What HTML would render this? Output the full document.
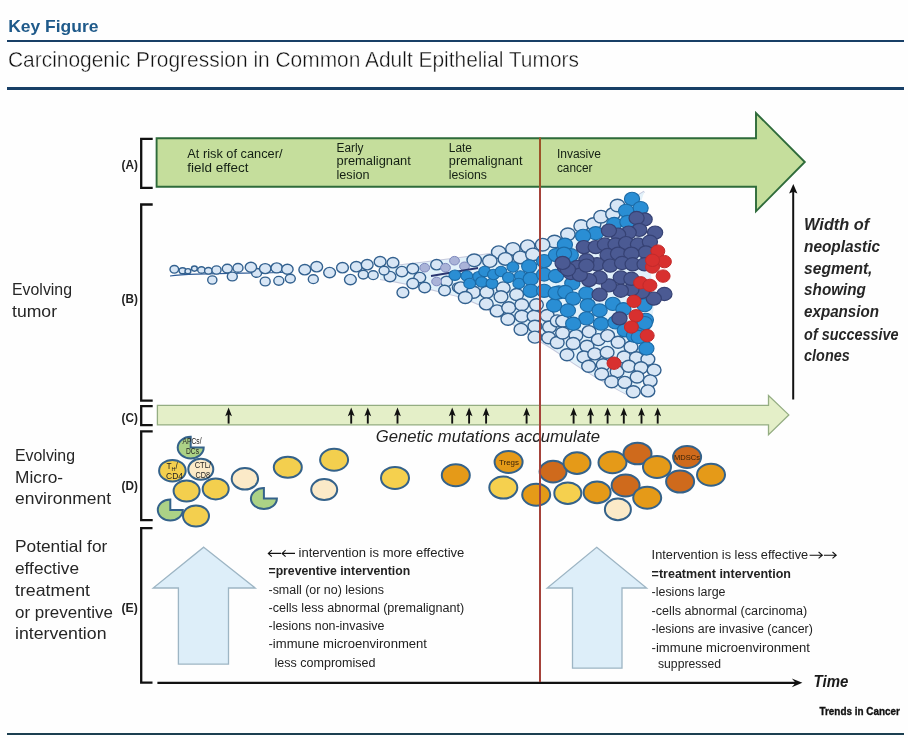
<!DOCTYPE html><html><head><meta charset="utf-8"><style>html,body{margin:0;padding:0;background:#fff;width:908px;height:738px;overflow:hidden}svg{display:block;will-change:transform}text{font-family:"Liberation Sans",sans-serif}</style></head><body>
<svg width="908" height="738" viewBox="0 0 908 738">
<rect x="0" y="0" width="908" height="738" fill="#fefefe"/>
<text x="8.2" y="31.8" font-size="17" font-weight="bold" font-style="normal" fill="#1f5a8a" textLength="90.3" lengthAdjust="spacingAndGlyphs">Key Figure</text>
<rect x="7" y="40" width="897" height="2" fill="#183f66"/>
<text x="8" y="66.8" font-size="22" font-weight="normal" font-style="normal" fill="#111" textLength="571.0" lengthAdjust="spacingAndGlyphs" stroke="#fefefe" stroke-width="0.4">Carcinogenic Progression in Common Adult Epithelial Tumors</text>
<rect x="7" y="87" width="897" height="3" fill="#183f66"/>
<path d="M152.7,138.9 H141.2 V187.8 H152.7" fill="none" stroke="#111" stroke-width="2.3"/>
<path d="M152.7,204.5 H141.2 V400.7 H152.7" fill="none" stroke="#111" stroke-width="2.3"/>
<path d="M152.7,406.2 H141.2 V425.2 H152.7" fill="none" stroke="#111" stroke-width="2.3"/>
<path d="M152.7,431.3 H141.2 V520.2 H152.7" fill="none" stroke="#111" stroke-width="2.3"/>
<path d="M152.5,528.2 H141.2 V682.6 H152.5" fill="none" stroke="#111" stroke-width="2.3"/>
<text x="121.5" y="168.7" font-size="12.5" font-weight="bold" font-style="normal" fill="#222" textLength="16.3" lengthAdjust="spacingAndGlyphs">(A)</text>
<text x="121.5" y="302.5" font-size="12.5" font-weight="bold" font-style="normal" fill="#222" textLength="16.3" lengthAdjust="spacingAndGlyphs">(B)</text>
<text x="121.5" y="422.2" font-size="12.5" font-weight="bold" font-style="normal" fill="#222" textLength="16.3" lengthAdjust="spacingAndGlyphs">(C)</text>
<text x="121.5" y="490" font-size="12.5" font-weight="bold" font-style="normal" fill="#222" textLength="16.3" lengthAdjust="spacingAndGlyphs">(D)</text>
<text x="121.5" y="612" font-size="12.5" font-weight="bold" font-style="normal" fill="#222" textLength="16.3" lengthAdjust="spacingAndGlyphs">(E)</text>
<path d="M156.6,138.3 H756 V113 L804.8,162 L756,211.3 V186.8 H156.6 Z" fill="#c5de9c" stroke="#2e6b3a" stroke-width="1.9" stroke-linejoin="miter"/>
<path d="M157.4,405.4 H768.5 V395.5 L788.8,414.9 L768.5,434.6 V424.9 H157.4 Z" fill="#e4efc8" stroke="#94ad82" stroke-width="1.3"/>
<text x="187.3" y="157.8" font-size="12.5" font-weight="normal" font-style="normal" fill="#142014" textLength="95.2" lengthAdjust="spacingAndGlyphs">At risk of cancer/</text>
<text x="187.3" y="171.6" font-size="12.5" font-weight="normal" font-style="normal" fill="#142014" textLength="61.2" lengthAdjust="spacingAndGlyphs">field effect</text>
<text x="336.5" y="151.5" font-size="12.5" font-weight="normal" font-style="normal" fill="#142014" textLength="27.0" lengthAdjust="spacingAndGlyphs">Early</text>
<text x="336.5" y="164.9" font-size="12.5" font-weight="normal" font-style="normal" fill="#142014" textLength="74.3" lengthAdjust="spacingAndGlyphs">premalignant</text>
<text x="336.5" y="178.6" font-size="12.5" font-weight="normal" font-style="normal" fill="#142014" textLength="33.0" lengthAdjust="spacingAndGlyphs">lesion</text>
<text x="448.8" y="151.5" font-size="12.5" font-weight="normal" font-style="normal" fill="#142014" textLength="23.2" lengthAdjust="spacingAndGlyphs">Late</text>
<text x="448.8" y="164.9" font-size="12.5" font-weight="normal" font-style="normal" fill="#142014" textLength="73.7" lengthAdjust="spacingAndGlyphs">premalignant</text>
<text x="448.8" y="178.6" font-size="12.5" font-weight="normal" font-style="normal" fill="#142014" textLength="38.2" lengthAdjust="spacingAndGlyphs">lesions</text>
<text x="556.9" y="158.1" font-size="12.5" font-weight="normal" font-style="normal" fill="#142014" textLength="44.1" lengthAdjust="spacingAndGlyphs">Invasive</text>
<text x="556.9" y="171.5" font-size="12.5" font-weight="normal" font-style="normal" fill="#142014" textLength="35.6" lengthAdjust="spacingAndGlyphs">cancer</text>
<text x="12" y="294.7" font-size="16.5" font-weight="normal" font-style="normal" fill="#262626" textLength="60.0" lengthAdjust="spacingAndGlyphs">Evolving</text>
<text x="12" y="316.9" font-size="16.5" font-weight="normal" font-style="normal" fill="#262626" textLength="45.0" lengthAdjust="spacingAndGlyphs">tumor</text>
<text x="15" y="460.8" font-size="16.5" font-weight="normal" font-style="normal" fill="#262626" textLength="60.0" lengthAdjust="spacingAndGlyphs">Evolving</text>
<text x="15" y="483" font-size="16.5" font-weight="normal" font-style="normal" fill="#262626" textLength="48.0" lengthAdjust="spacingAndGlyphs">Micro-</text>
<text x="15" y="504.4" font-size="16.5" font-weight="normal" font-style="normal" fill="#262626" textLength="96.0" lengthAdjust="spacingAndGlyphs">environment</text>
<text x="15" y="552" font-size="16.5" font-weight="normal" font-style="normal" fill="#262626" textLength="92.3" lengthAdjust="spacingAndGlyphs">Potential for</text>
<text x="15" y="574" font-size="16.5" font-weight="normal" font-style="normal" fill="#262626" textLength="64.0" lengthAdjust="spacingAndGlyphs">effective</text>
<text x="15" y="595.9" font-size="16.5" font-weight="normal" font-style="normal" fill="#262626" textLength="75.0" lengthAdjust="spacingAndGlyphs">treatment</text>
<text x="15" y="617.8" font-size="16.5" font-weight="normal" font-style="normal" fill="#262626" textLength="98.0" lengthAdjust="spacingAndGlyphs">or preventive</text>
<text x="15" y="639" font-size="16.5" font-weight="normal" font-style="normal" fill="#262626" textLength="91.5" lengthAdjust="spacingAndGlyphs">intervention</text>
<text x="804.1" y="229.5" font-size="16" font-weight="bold" font-style="italic" fill="#262626" textLength="65.1" lengthAdjust="spacingAndGlyphs">Width of</text>
<text x="804.1" y="251.6" font-size="16" font-weight="bold" font-style="italic" fill="#262626" textLength="75.9" lengthAdjust="spacingAndGlyphs">neoplastic</text>
<text x="804.1" y="274" font-size="16" font-weight="bold" font-style="italic" fill="#262626" textLength="68.3" lengthAdjust="spacingAndGlyphs">segment,</text>
<text x="804.1" y="295.2" font-size="16" font-weight="bold" font-style="italic" fill="#262626" textLength="61.8" lengthAdjust="spacingAndGlyphs">showing</text>
<text x="804.1" y="317.4" font-size="16" font-weight="bold" font-style="italic" fill="#262626" textLength="74.9" lengthAdjust="spacingAndGlyphs">expansion</text>
<text x="804.1" y="339.7" font-size="16" font-weight="bold" font-style="italic" fill="#262626" textLength="94.4" lengthAdjust="spacingAndGlyphs">of successive</text>
<text x="804.1" y="360.8" font-size="16" font-weight="bold" font-style="italic" fill="#262626" textLength="45.6" lengthAdjust="spacingAndGlyphs">clones</text>
<line x1="793.2" y1="190" x2="793.2" y2="399.5" stroke="#111" stroke-width="2"/>
<path d="M793.3,184 L797.4,193.6 L793.2,191.8 L789.1,193.6 Z" fill="#111"/>
<path d="M380,267.6 C430,262 490,255 538.6,246.1 S610,212 644.3,191.6" fill="none" stroke="#c4c8dc" stroke-width="2"/>
<path d="M380,279 C420,285 440,292 462.6,297.3 C500,312 520,330 538.6,340.3 C560,352 570,362 584.8,370 C600,380 615,388 631.1,396.4" fill="none" stroke="#c4c8dc" stroke-width="2"/>
<path d="M380,267.6 C430,262 490,255 538.6,246.1 S610,212 644.3,191.6 L640,205 L655,300 L640,392 L631.1,396.4 C615,388 600,380 584.8,370 C570,362 560,352 538.6,340.3 C520,330 500,312 462.6,297.3 C440,292 420,285 380,279 Z" fill="#e2f1fa" stroke="none"/>
<path d="M170,276 C200,272 260,274 290,272" stroke="#2c5a96" stroke-width="1.2" fill="none"/>
<g fill="#d8e6f5" stroke="#33618f" stroke-width="1.4">
<ellipse cx="174.3" cy="269.3" rx="4.3" ry="3.8"/>
<ellipse cx="182.6" cy="270.8" rx="3.5" ry="3.0"/>
<ellipse cx="187.9" cy="271.2" rx="2.9" ry="2.6"/>
<ellipse cx="194.4" cy="268.6" rx="2.9" ry="2.6"/>
<ellipse cx="201.5" cy="270.0" rx="3.8" ry="3.3"/>
<ellipse cx="208.4" cy="270.8" rx="3.8" ry="3.3"/>
<ellipse cx="216.5" cy="270.0" rx="4.6" ry="4.1"/>
<ellipse cx="212.3" cy="280.0" rx="4.6" ry="4.1"/>
<ellipse cx="227.3" cy="268.6" rx="5.0" ry="4.4"/>
<ellipse cx="232.3" cy="276.5" rx="5.0" ry="4.4"/>
<ellipse cx="238.0" cy="267.9" rx="5.0" ry="4.4"/>
<ellipse cx="256.6" cy="272.9" rx="5.0" ry="4.4"/>
<ellipse cx="265.2" cy="281.5" rx="5.0" ry="4.4"/>
<ellipse cx="278.8" cy="280.8" rx="5.0" ry="4.4"/>
<ellipse cx="250.9" cy="267.2" rx="5.7" ry="5.0"/>
<ellipse cx="265.2" cy="268.6" rx="5.7" ry="5.0"/>
<ellipse cx="276.7" cy="267.9" rx="5.7" ry="5.0"/>
<ellipse cx="287.4" cy="269.3" rx="5.7" ry="5.0"/>
<ellipse cx="304.8" cy="269.7" rx="5.9" ry="5.2"/>
<ellipse cx="316.7" cy="266.7" rx="5.9" ry="5.2"/>
<ellipse cx="329.6" cy="272.6" rx="5.9" ry="5.2"/>
<ellipse cx="342.5" cy="267.7" rx="5.9" ry="5.2"/>
<ellipse cx="356.3" cy="266.7" rx="5.9" ry="5.2"/>
<ellipse cx="367.2" cy="264.7" rx="5.9" ry="5.2"/>
<ellipse cx="380.1" cy="261.7" rx="5.9" ry="5.2"/>
<ellipse cx="393.0" cy="262.7" rx="5.9" ry="5.2"/>
<ellipse cx="390.0" cy="276.6" rx="5.9" ry="5.2"/>
<ellipse cx="401.9" cy="271.6" rx="5.9" ry="5.2"/>
<ellipse cx="412.8" cy="268.7" rx="5.9" ry="5.2"/>
<ellipse cx="419.8" cy="277.6" rx="5.9" ry="5.2"/>
<ellipse cx="436.6" cy="264.7" rx="5.9" ry="5.2"/>
<ellipse cx="412.8" cy="283.5" rx="5.9" ry="5.2"/>
<ellipse cx="424.7" cy="287.5" rx="5.9" ry="5.2"/>
<ellipse cx="402.9" cy="292.5" rx="5.9" ry="5.2"/>
<ellipse cx="446.5" cy="281.5" rx="5.9" ry="5.2"/>
<ellipse cx="444.6" cy="290.5" rx="5.9" ry="5.2"/>
<ellipse cx="350.4" cy="279.6" rx="5.9" ry="5.2"/>
<ellipse cx="290.3" cy="278.6" rx="5.0" ry="4.4"/>
<ellipse cx="313.3" cy="279.2" rx="5.0" ry="4.4"/>
<ellipse cx="363.3" cy="274.6" rx="5.0" ry="4.4"/>
<ellipse cx="373.2" cy="275.2" rx="5.0" ry="4.4"/>
<ellipse cx="384.1" cy="270.6" rx="5.0" ry="4.4"/>
<ellipse cx="457.4" cy="287.5" rx="5.0" ry="4.4"/>
<ellipse cx="567.9" cy="234.3" rx="7.2" ry="6.3"/>
<ellipse cx="554.5" cy="241.5" rx="7.2" ry="6.3"/>
<ellipse cx="542.6" cy="244.7" rx="7.2" ry="6.3"/>
<ellipse cx="527.7" cy="246.2" rx="7.2" ry="6.3"/>
<ellipse cx="512.9" cy="248.9" rx="7.2" ry="6.3"/>
<ellipse cx="498.7" cy="252.2" rx="7.2" ry="6.3"/>
<ellipse cx="474.2" cy="260.3" rx="7.2" ry="6.3"/>
<ellipse cx="489.8" cy="261.1" rx="7.2" ry="6.3"/>
<ellipse cx="505.4" cy="258.9" rx="7.2" ry="6.3"/>
<ellipse cx="520.3" cy="257.4" rx="7.2" ry="6.3"/>
<ellipse cx="532.9" cy="254.4" rx="7.2" ry="6.3"/>
<ellipse cx="581.1" cy="226.0" rx="7.2" ry="6.3"/>
<ellipse cx="593.7" cy="224.0" rx="7.2" ry="6.3"/>
<ellipse cx="601.0" cy="216.7" rx="7.2" ry="6.3"/>
<ellipse cx="612.9" cy="214.1" rx="7.2" ry="6.3"/>
<ellipse cx="617.5" cy="205.5" rx="7.2" ry="6.3"/>
<ellipse cx="460.8" cy="287.9" rx="6.9" ry="6.0"/>
<ellipse cx="473.5" cy="292.3" rx="6.9" ry="6.0"/>
<ellipse cx="486.8" cy="292.3" rx="6.9" ry="6.0"/>
<ellipse cx="503.2" cy="287.9" rx="6.9" ry="6.0"/>
<ellipse cx="516.6" cy="294.5" rx="6.9" ry="6.0"/>
<ellipse cx="501.0" cy="296.8" rx="6.9" ry="6.0"/>
<ellipse cx="465.3" cy="297.5" rx="6.9" ry="6.0"/>
<ellipse cx="486.3" cy="303.9" rx="6.9" ry="6.0"/>
<ellipse cx="497.1" cy="310.9" rx="6.9" ry="6.0"/>
<ellipse cx="508.7" cy="307.8" rx="6.9" ry="6.0"/>
<ellipse cx="521.8" cy="304.7" rx="6.9" ry="6.0"/>
<ellipse cx="507.9" cy="319.3" rx="6.9" ry="6.0"/>
<ellipse cx="521.8" cy="316.3" rx="6.9" ry="6.0"/>
<ellipse cx="521.0" cy="329.4" rx="6.9" ry="6.0"/>
<ellipse cx="534.1" cy="316.3" rx="6.9" ry="6.0"/>
<ellipse cx="536.4" cy="304.7" rx="6.9" ry="6.0"/>
<ellipse cx="534.9" cy="326.3" rx="6.9" ry="6.0"/>
<ellipse cx="534.9" cy="337.1" rx="6.9" ry="6.0"/>
<ellipse cx="547.2" cy="315.5" rx="6.9" ry="6.0"/>
<ellipse cx="549.5" cy="327.0" rx="6.9" ry="6.0"/>
<ellipse cx="548.7" cy="337.8" rx="6.9" ry="6.0"/>
<ellipse cx="557.2" cy="320.9" rx="6.9" ry="6.0"/>
<ellipse cx="557.2" cy="342.5" rx="6.9" ry="6.0"/>
<ellipse cx="562.6" cy="321.1" rx="6.9" ry="6.0"/>
<ellipse cx="562.6" cy="333.0" rx="6.9" ry="6.0"/>
<ellipse cx="575.9" cy="335.6" rx="6.9" ry="6.0"/>
<ellipse cx="589.1" cy="331.6" rx="6.9" ry="6.0"/>
<ellipse cx="598.3" cy="339.6" rx="6.9" ry="6.0"/>
<ellipse cx="607.6" cy="335.6" rx="6.9" ry="6.0"/>
<ellipse cx="618.1" cy="342.2" rx="6.9" ry="6.0"/>
<ellipse cx="573.2" cy="343.5" rx="6.9" ry="6.0"/>
<ellipse cx="567.0" cy="354.7" rx="6.9" ry="6.0"/>
<ellipse cx="587.0" cy="346.2" rx="6.9" ry="6.0"/>
<ellipse cx="583.9" cy="357.0" rx="6.9" ry="6.0"/>
<ellipse cx="594.7" cy="353.9" rx="6.9" ry="6.0"/>
<ellipse cx="607.1" cy="352.4" rx="6.9" ry="6.0"/>
<ellipse cx="631.0" cy="347.0" rx="6.9" ry="6.0"/>
<ellipse cx="588.6" cy="366.3" rx="6.9" ry="6.0"/>
<ellipse cx="603.2" cy="364.7" rx="6.9" ry="6.0"/>
<ellipse cx="624.0" cy="357.0" rx="6.9" ry="6.0"/>
<ellipse cx="636.4" cy="357.8" rx="6.9" ry="6.0"/>
<ellipse cx="647.9" cy="359.3" rx="6.9" ry="6.0"/>
<ellipse cx="601.7" cy="374.0" rx="6.9" ry="6.0"/>
<ellipse cx="617.1" cy="371.6" rx="6.9" ry="6.0"/>
<ellipse cx="628.7" cy="366.3" rx="6.9" ry="6.0"/>
<ellipse cx="641.0" cy="367.8" rx="6.9" ry="6.0"/>
<ellipse cx="654.1" cy="370.1" rx="6.9" ry="6.0"/>
<ellipse cx="611.7" cy="381.7" rx="6.9" ry="6.0"/>
<ellipse cx="624.8" cy="382.4" rx="6.9" ry="6.0"/>
<ellipse cx="637.1" cy="377.0" rx="6.9" ry="6.0"/>
<ellipse cx="650.2" cy="380.9" rx="6.9" ry="6.0"/>
<ellipse cx="633.3" cy="391.7" rx="6.9" ry="6.0"/>
<ellipse cx="647.9" cy="390.9" rx="6.9" ry="6.0"/>
</g>
<g fill="#aab3d8" stroke="#7d88bd" stroke-width="1.0">
<ellipse cx="424.7" cy="267.7" rx="4.9" ry="4.3"/>
<ellipse cx="445.5" cy="267.7" rx="4.9" ry="4.3"/>
<ellipse cx="454.5" cy="260.7" rx="4.9" ry="4.3"/>
<ellipse cx="436.6" cy="281.5" rx="4.9" ry="4.3"/>
<ellipse cx="464.5" cy="266.3" rx="4.9" ry="4.3"/>
</g>
<path d="M431,276 L478,268" stroke="#2a3570" stroke-width="1.8" fill="none"/>
<g fill="#2a8ed4" stroke="#1b6aa6" stroke-width="1.1">
<ellipse cx="454.9" cy="275.2" rx="5.9" ry="5.2"/>
<ellipse cx="466.8" cy="276.0" rx="5.9" ry="5.2"/>
<ellipse cx="469.7" cy="283.4" rx="5.9" ry="5.2"/>
<ellipse cx="478.7" cy="276.7" rx="5.9" ry="5.2"/>
<ellipse cx="484.6" cy="271.5" rx="5.9" ry="5.2"/>
<ellipse cx="481.6" cy="281.9" rx="5.9" ry="5.2"/>
<ellipse cx="492.0" cy="283.4" rx="5.9" ry="5.2"/>
<ellipse cx="493.5" cy="274.5" rx="5.9" ry="5.2"/>
<ellipse cx="501.0" cy="271.5" rx="5.9" ry="5.2"/>
<ellipse cx="508.4" cy="277.4" rx="5.9" ry="5.2"/>
<ellipse cx="512.9" cy="267.0" rx="5.9" ry="5.2"/>
<ellipse cx="520.3" cy="276.0" rx="5.9" ry="5.2"/>
<ellipse cx="518.8" cy="283.4" rx="5.9" ry="5.2"/>
<ellipse cx="529.2" cy="266.3" rx="7.6" ry="6.6"/>
<ellipse cx="530.7" cy="278.9" rx="7.6" ry="6.6"/>
<ellipse cx="530.7" cy="290.8" rx="7.6" ry="6.6"/>
<ellipse cx="544.1" cy="261.1" rx="7.6" ry="6.6"/>
<ellipse cx="544.1" cy="274.5" rx="7.6" ry="6.6"/>
<ellipse cx="544.1" cy="290.8" rx="7.6" ry="6.6"/>
<ellipse cx="556.0" cy="255.1" rx="7.6" ry="6.6"/>
<ellipse cx="556.0" cy="276.0" rx="7.6" ry="6.6"/>
<ellipse cx="558.9" cy="292.3" rx="7.6" ry="6.6"/>
<ellipse cx="564.9" cy="244.7" rx="7.6" ry="6.6"/>
<ellipse cx="570.8" cy="255.1" rx="7.6" ry="6.6"/>
<ellipse cx="572.3" cy="283.4" rx="7.6" ry="6.6"/>
<ellipse cx="554.1" cy="305.5" rx="7.6" ry="6.6"/>
<ellipse cx="555.7" cy="293.1" rx="7.6" ry="6.6"/>
<ellipse cx="632.0" cy="198.9" rx="7.6" ry="6.6"/>
<ellipse cx="640.6" cy="208.1" rx="7.6" ry="6.6"/>
<ellipse cx="626.1" cy="210.8" rx="7.6" ry="6.6"/>
<ellipse cx="614.2" cy="224.0" rx="7.6" ry="6.6"/>
<ellipse cx="627.4" cy="222.0" rx="7.6" ry="6.6"/>
<ellipse cx="595.7" cy="233.2" rx="7.6" ry="6.6"/>
<ellipse cx="583.1" cy="235.9" rx="7.6" ry="6.6"/>
<ellipse cx="564.0" cy="253.7" rx="7.6" ry="6.6"/>
<ellipse cx="565.3" cy="292.0" rx="7.6" ry="6.6"/>
<ellipse cx="573.2" cy="298.6" rx="7.6" ry="6.6"/>
<ellipse cx="586.4" cy="293.3" rx="7.6" ry="6.6"/>
<ellipse cx="587.8" cy="305.2" rx="7.6" ry="6.6"/>
<ellipse cx="567.9" cy="310.5" rx="7.6" ry="6.6"/>
<ellipse cx="586.4" cy="318.4" rx="7.6" ry="6.6"/>
<ellipse cx="573.2" cy="323.7" rx="7.6" ry="6.6"/>
<ellipse cx="599.6" cy="310.5" rx="7.6" ry="6.6"/>
<ellipse cx="601.0" cy="323.7" rx="7.6" ry="6.6"/>
<ellipse cx="612.9" cy="303.9" rx="7.6" ry="6.6"/>
<ellipse cx="615.5" cy="322.4" rx="7.6" ry="6.6"/>
<ellipse cx="624.8" cy="330.3" rx="7.6" ry="6.6"/>
<ellipse cx="623.4" cy="309.2" rx="7.6" ry="6.6"/>
<ellipse cx="644.6" cy="305.2" rx="7.6" ry="6.6"/>
<ellipse cx="645.9" cy="319.8" rx="7.6" ry="6.6"/>
<ellipse cx="641.9" cy="326.4" rx="7.6" ry="6.6"/>
<ellipse cx="634.0" cy="335.6" rx="7.6" ry="6.6"/>
<ellipse cx="638.7" cy="337.0" rx="7.6" ry="6.6"/>
<ellipse cx="646.4" cy="348.5" rx="7.6" ry="6.6"/>
<ellipse cx="644.8" cy="323.1" rx="7.6" ry="6.6"/>
</g>
<g fill="#4b5a93" stroke="#364274" stroke-width="1.2">
<ellipse cx="564.9" cy="267.0" rx="7.6" ry="6.6"/>
<ellipse cx="570.8" cy="273.0" rx="7.6" ry="6.6"/>
<ellipse cx="644.6" cy="219.4" rx="7.6" ry="6.6"/>
<ellipse cx="636.6" cy="218.0" rx="7.6" ry="6.6"/>
<ellipse cx="655.1" cy="232.6" rx="7.6" ry="6.6"/>
<ellipse cx="639.3" cy="229.9" rx="7.6" ry="6.6"/>
<ellipse cx="628.7" cy="232.6" rx="7.6" ry="6.6"/>
<ellipse cx="618.1" cy="234.6" rx="7.6" ry="6.6"/>
<ellipse cx="608.9" cy="230.6" rx="7.6" ry="6.6"/>
<ellipse cx="583.8" cy="247.1" rx="7.6" ry="6.6"/>
<ellipse cx="595.7" cy="247.1" rx="7.6" ry="6.6"/>
<ellipse cx="604.9" cy="244.5" rx="7.6" ry="6.6"/>
<ellipse cx="615.5" cy="244.5" rx="7.6" ry="6.6"/>
<ellipse cx="626.1" cy="243.1" rx="7.6" ry="6.6"/>
<ellipse cx="638.0" cy="244.5" rx="7.6" ry="6.6"/>
<ellipse cx="649.9" cy="241.8" rx="7.6" ry="6.6"/>
<ellipse cx="645.9" cy="252.4" rx="7.6" ry="6.6"/>
<ellipse cx="607.6" cy="255.0" rx="7.6" ry="6.6"/>
<ellipse cx="618.1" cy="253.7" rx="7.6" ry="6.6"/>
<ellipse cx="631.4" cy="253.7" rx="7.6" ry="6.6"/>
<ellipse cx="597.0" cy="264.3" rx="7.6" ry="6.6"/>
<ellipse cx="610.2" cy="265.6" rx="7.6" ry="6.6"/>
<ellipse cx="622.1" cy="263.0" rx="7.6" ry="6.6"/>
<ellipse cx="632.7" cy="264.3" rx="7.6" ry="6.6"/>
<ellipse cx="644.6" cy="264.3" rx="7.6" ry="6.6"/>
<ellipse cx="586.4" cy="260.3" rx="7.6" ry="6.6"/>
<ellipse cx="577.2" cy="267.0" rx="7.6" ry="6.6"/>
<ellipse cx="664.4" cy="294.0" rx="7.6" ry="6.6"/>
<ellipse cx="653.8" cy="298.6" rx="7.6" ry="6.6"/>
<ellipse cx="641.9" cy="292.0" rx="7.6" ry="6.6"/>
<ellipse cx="631.4" cy="289.4" rx="7.6" ry="6.6"/>
<ellipse cx="620.8" cy="290.7" rx="7.6" ry="6.6"/>
<ellipse cx="620.8" cy="277.5" rx="7.6" ry="6.6"/>
<ellipse cx="631.4" cy="278.8" rx="7.6" ry="6.6"/>
<ellipse cx="608.9" cy="285.4" rx="7.6" ry="6.6"/>
<ellipse cx="599.6" cy="294.6" rx="7.6" ry="6.6"/>
<ellipse cx="599.6" cy="277.5" rx="7.6" ry="6.6"/>
<ellipse cx="589.1" cy="280.1" rx="7.6" ry="6.6"/>
<ellipse cx="579.8" cy="274.8" rx="7.6" ry="6.6"/>
<ellipse cx="567.9" cy="269.5" rx="7.6" ry="6.6"/>
<ellipse cx="562.6" cy="262.9" rx="7.6" ry="6.6"/>
<ellipse cx="586.4" cy="265.6" rx="7.6" ry="6.6"/>
<ellipse cx="619.5" cy="318.4" rx="7.6" ry="6.6"/>
</g>
<g fill="#d8302f" stroke="#c22a2a" stroke-width="1.0">
<ellipse cx="657.8" cy="251.1" rx="7.0" ry="6.2"/>
<ellipse cx="664.4" cy="261.6" rx="7.0" ry="6.2"/>
<ellipse cx="652.5" cy="267.0" rx="7.0" ry="6.2"/>
<ellipse cx="652.5" cy="260.3" rx="7.0" ry="6.2"/>
<ellipse cx="663.1" cy="276.1" rx="7.0" ry="6.2"/>
<ellipse cx="640.6" cy="282.8" rx="7.0" ry="6.2"/>
<ellipse cx="649.9" cy="285.4" rx="7.0" ry="6.2"/>
<ellipse cx="634.0" cy="301.3" rx="7.0" ry="6.2"/>
<ellipse cx="636.0" cy="315.8" rx="7.0" ry="6.2"/>
<ellipse cx="631.4" cy="327.0" rx="7.0" ry="6.2"/>
<ellipse cx="647.2" cy="335.6" rx="7.0" ry="6.2"/>
<ellipse cx="614.0" cy="363.2" rx="7.0" ry="6.2"/>
</g>
<line x1="228.6" y1="412" x2="228.6" y2="423.6" stroke="#111" stroke-width="1.9"/>
<path d="M228.6,407.6 L232.0,416.2 L228.6,414.2 L225.2,416.2 Z" fill="#111"/>
<line x1="351.2" y1="412" x2="351.2" y2="423.6" stroke="#111" stroke-width="1.9"/>
<path d="M351.2,407.6 L354.59999999999997,416.2 L351.2,414.2 L347.8,416.2 Z" fill="#111"/>
<line x1="367.8" y1="412" x2="367.8" y2="423.6" stroke="#111" stroke-width="1.9"/>
<path d="M367.8,407.6 L371.2,416.2 L367.8,414.2 L364.40000000000003,416.2 Z" fill="#111"/>
<line x1="397.5" y1="412" x2="397.5" y2="423.6" stroke="#111" stroke-width="1.9"/>
<path d="M397.5,407.6 L400.9,416.2 L397.5,414.2 L394.1,416.2 Z" fill="#111"/>
<line x1="452.2" y1="412" x2="452.2" y2="423.6" stroke="#111" stroke-width="1.9"/>
<path d="M452.2,407.6 L455.59999999999997,416.2 L452.2,414.2 L448.8,416.2 Z" fill="#111"/>
<line x1="469.1" y1="412" x2="469.1" y2="423.6" stroke="#111" stroke-width="1.9"/>
<path d="M469.1,407.6 L472.5,416.2 L469.1,414.2 L465.70000000000005,416.2 Z" fill="#111"/>
<line x1="486.1" y1="412" x2="486.1" y2="423.6" stroke="#111" stroke-width="1.9"/>
<path d="M486.1,407.6 L489.5,416.2 L486.1,414.2 L482.70000000000005,416.2 Z" fill="#111"/>
<line x1="526.6" y1="412" x2="526.6" y2="423.6" stroke="#111" stroke-width="1.9"/>
<path d="M526.6,407.6 L530.0,416.2 L526.6,414.2 L523.2,416.2 Z" fill="#111"/>
<line x1="573.6" y1="412" x2="573.6" y2="423.6" stroke="#111" stroke-width="1.9"/>
<path d="M573.6,407.6 L577.0,416.2 L573.6,414.2 L570.2,416.2 Z" fill="#111"/>
<line x1="590.6" y1="412" x2="590.6" y2="423.6" stroke="#111" stroke-width="1.9"/>
<path d="M590.6,407.6 L594.0,416.2 L590.6,414.2 L587.2,416.2 Z" fill="#111"/>
<line x1="607.6" y1="412" x2="607.6" y2="423.6" stroke="#111" stroke-width="1.9"/>
<path d="M607.6,407.6 L611.0,416.2 L607.6,414.2 L604.2,416.2 Z" fill="#111"/>
<line x1="623.8" y1="412" x2="623.8" y2="423.6" stroke="#111" stroke-width="1.9"/>
<path d="M623.8,407.6 L627.1999999999999,416.2 L623.8,414.2 L620.4,416.2 Z" fill="#111"/>
<line x1="641.5" y1="412" x2="641.5" y2="423.6" stroke="#111" stroke-width="1.9"/>
<path d="M641.5,407.6 L644.9,416.2 L641.5,414.2 L638.1,416.2 Z" fill="#111"/>
<line x1="657.7" y1="412" x2="657.7" y2="423.6" stroke="#111" stroke-width="1.9"/>
<path d="M657.7,407.6 L661.1,416.2 L657.7,414.2 L654.3000000000001,416.2 Z" fill="#111"/>
<text x="375.7" y="442.3" font-size="16" font-weight="normal" font-style="italic" fill="#222" textLength="224.3" lengthAdjust="spacingAndGlyphs">Genetic mutations accumulate</text>
<path d="M190.7,447.6 V436.8 A13,10.8 0 1 0 203.7,447.6 Z" fill="#acd286" stroke="#34628a" stroke-width="2" stroke-linejoin="miter"/>
<ellipse cx="172.4" cy="470.7" rx="13.3" ry="10.8" fill="#f3cf4e" stroke="#34628a" stroke-width="2"/>
<ellipse cx="200.8" cy="469.3" rx="12.5" ry="10.5" fill="#fbeac8" stroke="#34628a" stroke-width="2"/>
<ellipse cx="186.6" cy="491" rx="13" ry="10.5" fill="#f3cf4e" stroke="#34628a" stroke-width="2"/>
<ellipse cx="215.7" cy="488.9" rx="13" ry="10.5" fill="#f3cf4e" stroke="#34628a" stroke-width="2"/>
<path d="M170.3,510 V499.5 A12.5,10.5 0 1 0 182.8,510 Z" fill="#acd286" stroke="#34628a" stroke-width="2" stroke-linejoin="miter"/>
<ellipse cx="196" cy="516" rx="13" ry="10.5" fill="#f3cf4e" stroke="#34628a" stroke-width="2"/>
<ellipse cx="244.9" cy="478.8" rx="13.2" ry="10.7" fill="#fbeac8" stroke="#34628a" stroke-width="2"/>
<path d="M263.9,498.6 V488.1 A13,10.5 0 1 0 276.9,498.6 Z" fill="#acd286" stroke="#34628a" stroke-width="2" stroke-linejoin="miter"/>
<ellipse cx="287.8" cy="467.3" rx="14" ry="10.5" fill="#f3cf4e" stroke="#34628a" stroke-width="2"/>
<ellipse cx="334.1" cy="459.8" rx="14" ry="11" fill="#f3cf4e" stroke="#34628a" stroke-width="2"/>
<ellipse cx="324.2" cy="489.6" rx="13" ry="10.5" fill="#fbeac8" stroke="#34628a" stroke-width="2"/>
<ellipse cx="395" cy="477.9" rx="14" ry="11" fill="#f5d04e" stroke="#34628a" stroke-width="2"/>
<ellipse cx="455.8" cy="475.2" rx="14" ry="11" fill="#e59a18" stroke="#34628a" stroke-width="2"/>
<ellipse cx="508.6" cy="462" rx="14" ry="11" fill="#e59a18" stroke="#34628a" stroke-width="2"/>
<ellipse cx="503.3" cy="487.6" rx="14" ry="11" fill="#f5d04e" stroke="#34628a" stroke-width="2"/>
<ellipse cx="536.2" cy="494.8" rx="14" ry="11" fill="#e59a18" stroke="#34628a" stroke-width="2"/>
<ellipse cx="553.1" cy="471.6" rx="13.5" ry="10.8" fill="#cf6a1c" stroke="#34628a" stroke-width="2"/>
<ellipse cx="577" cy="463.1" rx="13.5" ry="10.8" fill="#e59a18" stroke="#34628a" stroke-width="2"/>
<ellipse cx="612.5" cy="462.4" rx="14" ry="10.8" fill="#e59a18" stroke="#34628a" stroke-width="2"/>
<ellipse cx="637.5" cy="453.5" rx="14" ry="10.8" fill="#cf6a1c" stroke="#34628a" stroke-width="2"/>
<ellipse cx="657" cy="467" rx="14" ry="11" fill="#e59a18" stroke="#34628a" stroke-width="2"/>
<ellipse cx="567.8" cy="493.2" rx="13.5" ry="10.8" fill="#f5d04e" stroke="#34628a" stroke-width="2"/>
<ellipse cx="597.1" cy="492.4" rx="13.5" ry="10.8" fill="#e59a18" stroke="#34628a" stroke-width="2"/>
<ellipse cx="625.6" cy="485.5" rx="14" ry="11" fill="#cf6a1c" stroke="#34628a" stroke-width="2"/>
<ellipse cx="647.2" cy="497.8" rx="14" ry="11" fill="#e59a18" stroke="#34628a" stroke-width="2"/>
<ellipse cx="617.9" cy="509.4" rx="13" ry="10.8" fill="#fbeac8" stroke="#34628a" stroke-width="2"/>
<ellipse cx="687.1" cy="457" rx="14" ry="11" fill="#cf6a1c" stroke="#34628a" stroke-width="2"/>
<ellipse cx="680.1" cy="481.6" rx="14" ry="11" fill="#cf6a1c" stroke="#34628a" stroke-width="2"/>
<ellipse cx="711" cy="474.7" rx="14" ry="11" fill="#e59a18" stroke="#34628a" stroke-width="2"/>
<text x="182.5" y="443.8" font-size="8.3" font-weight="normal" font-style="normal" fill="#222" textLength="19.0" lengthAdjust="spacingAndGlyphs">APCs/</text>
<text x="186" y="454" font-size="8.3" font-weight="normal" font-style="normal" fill="#222" textLength="13.0" lengthAdjust="spacingAndGlyphs">DCs</text>
<text x="166.5" y="468.5" font-size="8.3" font-weight="normal" font-style="normal" fill="#222">T</text>
<text x="171.5" y="470.5" font-size="5.5" font-weight="normal" font-style="normal" fill="#222">H</text>
<text x="175.5" y="468.5" font-size="8.3" font-weight="normal" font-style="normal" fill="#222">/</text>
<text x="166" y="479" font-size="8.3" font-weight="normal" font-style="normal" fill="#222" textLength="17.0" lengthAdjust="spacingAndGlyphs">CD4</text>
<text x="194.7" y="468" font-size="8.3" font-weight="normal" font-style="normal" fill="#222" textLength="16.3" lengthAdjust="spacingAndGlyphs">CTL/</text>
<text x="195.4" y="477.8" font-size="8.3" font-weight="normal" font-style="normal" fill="#222" textLength="14.6" lengthAdjust="spacingAndGlyphs">CD8</text>
<text x="499" y="465" font-size="7" font-weight="normal" font-style="normal" fill="#3a2208" textLength="20.0" lengthAdjust="spacingAndGlyphs">Tregs</text>
<text x="674" y="460" font-size="7" font-weight="normal" font-style="normal" fill="#3a2208" textLength="26.0" lengthAdjust="spacingAndGlyphs">MDSCs</text>
<path d="M203.7,547.2 L255.2,588 H228.5 V664.1 H178.4 V588 H153.2 Z" fill="#ddeef9" stroke="#9db5c4" stroke-width="1.3"/>
<path d="M596.7,547.3 L646.6,588 H622 V668.2 H572.5 V588 H547.2 Z" fill="#ddeef9" stroke="#9db5c4" stroke-width="1.3"/>
<text x="298.6" y="557" font-size="12.5" font-weight="normal" font-style="normal" fill="#222" textLength="165.7" lengthAdjust="spacingAndGlyphs">intervention is more effective</text>
<path d="M268.3,553.4 H281 M271.8,550.2 L268.3,553.4 L271.8,556.6 M282.1,553.4 H295 M285.6,550.2 L282.1,553.4 L285.6,556.6" stroke="#111" stroke-width="1.1" fill="none"/>
<text x="268.5" y="575.1" font-size="12.5" font-weight="bold" font-style="normal" fill="#222" textLength="141.7" lengthAdjust="spacingAndGlyphs">=preventive intervention</text>
<text x="268.5" y="593.8" font-size="12.5" font-weight="normal" font-style="normal" fill="#222" textLength="115.5" lengthAdjust="spacingAndGlyphs">-small (or no) lesions</text>
<text x="268.5" y="612" font-size="12.5" font-weight="normal" font-style="normal" fill="#222" textLength="195.8" lengthAdjust="spacingAndGlyphs">-cells less abnormal (premalignant)</text>
<text x="268.5" y="630" font-size="12.5" font-weight="normal" font-style="normal" fill="#222" textLength="116.0" lengthAdjust="spacingAndGlyphs">-lesions non-invasive</text>
<text x="268.5" y="648.3" font-size="12.5" font-weight="normal" font-style="normal" fill="#222" textLength="158.5" lengthAdjust="spacingAndGlyphs">-immune microenvironment</text>
<text x="274.5" y="666.5" font-size="12.5" font-weight="normal" font-style="normal" fill="#222" textLength="101.0" lengthAdjust="spacingAndGlyphs">less compromised</text>
<text x="651.6" y="559.4" font-size="12.5" font-weight="normal" font-style="normal" fill="#222" textLength="156.6" lengthAdjust="spacingAndGlyphs">Intervention is less effective</text>
<path d="M809.6,555.2 H822.3 M818.6,552 L822.3,555.2 L818.6,558.4 M823.9,555.2 H836.2 M832.5,552 L836.2,555.2 L832.5,558.4" stroke="#111" stroke-width="1.1" fill="none"/>
<text x="651.6" y="578" font-size="12.5" font-weight="bold" font-style="normal" fill="#222" textLength="139.4" lengthAdjust="spacingAndGlyphs">=treatment intervention</text>
<text x="651.6" y="595.7" font-size="12.5" font-weight="normal" font-style="normal" fill="#222" textLength="73.9" lengthAdjust="spacingAndGlyphs">-lesions large</text>
<text x="651.6" y="614.6" font-size="12.5" font-weight="normal" font-style="normal" fill="#222" textLength="155.6" lengthAdjust="spacingAndGlyphs">-cells abnormal (carcinoma)</text>
<text x="651.6" y="632.8" font-size="12.5" font-weight="normal" font-style="normal" fill="#222" textLength="161.2" lengthAdjust="spacingAndGlyphs">-lesions are invasive (cancer)</text>
<text x="651.6" y="651.5" font-size="12.5" font-weight="normal" font-style="normal" fill="#222" textLength="158.4" lengthAdjust="spacingAndGlyphs">-immune microenvironment</text>
<text x="658" y="668.4" font-size="12.5" font-weight="normal" font-style="normal" fill="#222" textLength="63.0" lengthAdjust="spacingAndGlyphs">suppressed</text>
<line x1="157.4" y1="682.8" x2="797" y2="682.8" stroke="#111" stroke-width="2.2"/>
<path d="M791.8,678.6 L802.4,682.8 L791.8,687.2 L795.6,682.8 Z" fill="#111"/>
<text x="813.6" y="686.8" font-size="16" font-weight="bold" font-style="italic" fill="#1a1a1a" textLength="34.7" lengthAdjust="spacingAndGlyphs">Time</text>
<line x1="540" y1="187.5" x2="540" y2="682" stroke="#a5423a" stroke-width="2"/>
<line x1="540" y1="137.5" x2="540" y2="187.5" stroke="#9c5228" stroke-width="2"/>
<text x="819.5" y="714.8" font-size="11.2" font-weight="bold" font-style="normal" fill="#111" textLength="80.4" lengthAdjust="spacingAndGlyphs" stroke="#111" stroke-width="0.35">Trends in Cancer</text>
<rect x="7" y="733" width="897" height="2" fill="#1c3f50"/>
</svg></body></html>
